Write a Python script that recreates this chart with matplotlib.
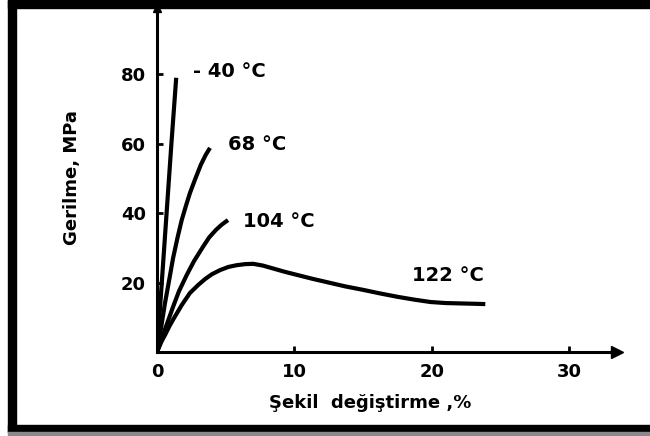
import matplotlib
matplotlib.use("Agg")
import matplotlib.pyplot as plt
from matplotlib.patches import Rectangle

# strain (%) / stress (MPa)
strain_40 = [0, 0.35, 0.7, 1.05, 1.4]
stress_40 = [0, 20, 40, 60, 79]

strain_68 = [0, 0.3, 0.58, 0.9, 1.17, 1.5, 1.8, 2.1, 2.4, 2.8, 3.2, 3.55, 3.86]
stress_68 = [0, 7, 14, 21, 27, 33, 38, 42, 45.8, 50, 54, 56.8, 58.8]

strain_104 = [0, 0.3, 0.58, 0.9, 1.17, 1.6, 2.18, 2.7, 3.35, 3.8, 4.3, 4.75, 5.17]
stress_104 = [0, 3, 6.5, 10, 13, 17.5, 22.3, 26.2, 30.3, 33, 35.2, 36.8, 38.0]

strain_122 = [0, 0.3, 0.6, 0.9, 1.2, 1.8, 2.4, 3.0, 3.5, 4.0, 4.6, 5.2, 5.8, 6.4, 7.0,
              7.7, 8.5, 9.3, 10.2, 11.3, 12.5, 13.7, 15.0, 16.2, 17.5, 18.7, 19.9,
              21.0, 22.0, 23.0, 23.9]
stress_122 = [0, 2.8, 5, 7.4, 9.5, 13.5, 17, 19.3, 21, 22.4, 23.6, 24.5, 25, 25.3, 25.4,
              24.9, 24, 23.1, 22.2, 21.1, 20, 18.9, 17.9, 16.9, 15.9, 15.1, 14.4,
              14.1, 14.0, 13.9, 13.8]

labels = ["- 40 °C", "68 °C", "104 °C", "122 °C"]
label_pos = [(2.6, 80.7), (5.17, 59.9), (6.26, 37.5), (18.57, 21.9)]

x_ticks = [0, 10, 20, 30]
y_ticks = [20, 40, 60, 80]

plt.rcParams['font.family'] = ['DejaVu Sans']
plt.rcParams['font.weight'] = 'bold'

fig = plt.figure(figsize=(6.5, 4.36), dpi=100)
ax = fig.add_axes([0.2415, 0.1927, 0.708, 0.789])

for xs, ys in [(strain_40, stress_40), (strain_68, stress_68),
               (strain_104, stress_104), (strain_122, stress_122)]:
    ax.plot(xs, ys, color='black', lw=3, solid_capstyle='butt', solid_joinstyle='round')

for txt, (tx, ty) in zip(labels, label_pos):
    ax.text(tx, ty, txt, fontsize=14, fontweight='bold', va='center', ha='left')

ax.set_xlim(0, 33.5)
ax.set_ylim(0, 99.1)
ax.set_xticks(x_ticks)
ax.set_yticks(y_ticks)
ax.tick_params(direction='in', length=4, width=2, labelsize=13, pad=8)
for lab in ax.get_xticklabels() + ax.get_yticklabels():
    lab.set_fontweight('bold')

for side in ['top', 'right']:
    ax.spines[side].set_visible(False)
for side in ['left', 'bottom']:
    ax.spines[side].set_linewidth(2.2)

ax.plot(1, 0, '>k', ms=8, transform=ax.transAxes, clip_on=False)
ax.plot(0, 1, '^k', ms=6, transform=ax.transAxes, clip_on=False)

fig.text(0.569, 0.0757, "Şekil  değiştirme ,%", fontsize=13, fontweight='bold',
         ha='center', va='center')
fig.text(0.111, 0.592, "Gerilme, MPa", fontsize=13, fontweight='bold',
         ha='center', va='center', rotation=90)

# scanned frame
fig.patches.append(Rectangle((0.0123, 0.00917), 0.0123, 0.99083, transform=fig.transFigure,
                             color='black', zorder=5))
fig.patches.append(Rectangle((0.0123, 0.9817), 0.9877, 0.0183, transform=fig.transFigure,
                             color='black', zorder=5))
fig.patches.append(Rectangle((0.0123, 0.00917), 0.9877, 0.0161, transform=fig.transFigure,
                             color='black', zorder=5))
fig.patches.append(Rectangle((0.0123, 0.0), 0.9877, 0.00917, transform=fig.transFigure,
                             color='#8a8a8a', zorder=5))

fig.savefig("out.png", dpi=100)
